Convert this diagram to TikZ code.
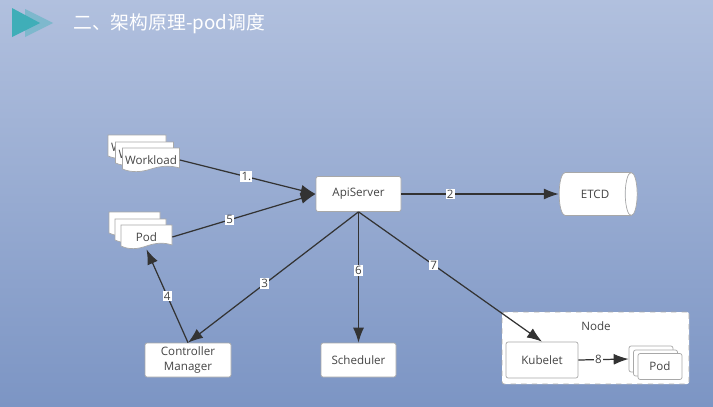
\documentclass[tikz,border=0pt]{standalone}
\usepackage{fontspec}
\setmainfont{Open Sans}
\newfontfamily\cjk{Noto Sans CJK SC}
\usepackage{xcolor}
\usepackage{tikz}
\usetikzlibrary{arrows.meta,positioning,shapes.geometric}
\definecolor{bgtop}{HTML}{B1C0DE}
\definecolor{bgbot}{HTML}{7C95C4}
\definecolor{linegray}{HTML}{333333}
\definecolor{edgegray}{HTML}{A8A8A8}
\definecolor{txtgray}{HTML}{444444}
\definecolor{arrowteal}{HTML}{3FAEB8}

% stacked sheet with a wavy lower edge: name, x, y, width, height, text
\newcommand{\docnode}[6]{
  \begin{scope}[shift={(#2,#3)}]
    \filldraw[draw=edgegray, fill=white, thin]
      (-#4/2,-#5/2) -- (#4/2,-#5/2) -- (#4/2,#5/2-4)
      .. controls (#4/3,#5/2-7) and (#4/6,#5/2-6) .. (0,#5/2-3)
      .. controls (-#4/6,#5/2) and (-#4/3,#5/2+1) .. (-#4/2,#5/2-3) -- cycle;
    \node[doctxt] (#1) at (0,0) [minimum width={#4*0.2mm}, minimum height={#5*0.2mm}] {#6};
  \end{scope}
}

\begin{document}
\begin{tikzpicture}[x=0.2mm, y=-0.2mm,
  comp/.style={draw=edgegray, fill=white, rounded corners=1.2pt, thin,
    align=center, inner sep=0pt, text=txtgray, font=\fontsize{6.6}{8}\selectfont},
  doctxt/.style={inner sep=0pt, text=txtgray, font=\fontsize{6.6}{8}\selectfont},
  store/.style={cylinder, shape border rotate=0, aspect=1.4, draw=edgegray, thin,
    cylinder uses custom fill, cylinder body fill=white, cylinder end fill=white,
    inner sep=0pt, text=txtgray, font=\fontsize{6.6}{8}\selectfont},
  zone/.style={draw=edgegray, fill=white, dashed, rounded corners=1.2pt, thin},
  arr/.style={-{Latex[length=3mm, width=2.2mm]}, draw=linegray, line width=0.7pt},
  elbl/.style={fill=white, inner sep=0.6pt, text=txtgray, font=\fontsize{6.6}{8}\selectfont}
]
  \useasboundingbox (0,0) rectangle (713,406);
  \shade[top color=bgtop, bottom color=bgbot] (0,0) rectangle (713,406);

  % title
  \fill[arrowteal!45!bgtop] (25,9) -- (53,23) -- (25,37) -- cycle;
  \fill[arrowteal] (12,8) -- (40,23) -- (12,37) -- cycle;
  \node[anchor=west, inner sep=0pt, text=white, font=\cjk\fontsize{10.7}{12}\selectfont]
    (title) at (73,24) {二、架构原理-pod调度};

  % control plane
  \node[comp, minimum width=17mm, minimum height=7mm] (api) at (358.5,194) {ApiServer};
  \node[store, minimum width=8.6mm, minimum height=15.6mm] (etcd) at (595,194) {ETCD\hspace{9pt}};
  \node[comp, minimum width=17.2mm, minimum height=6.8mm, align=center] (ctrl) at (188,360) {Controller\\Manager};
  \node[comp, minimum width=15mm, minimum height=6.8mm] (sched) at (358.5,360) {Scheduler};

  % workload sheets
  \docnode{wlc}{137}{147}{58}{24}{Workload}
  \docnode{wlb}{144.5}{154}{58}{24}{Workload}
  \docnode{wl}{151}{160}{57}{24}{Workload}

  % pod sheets
  \docnode{podc}{134.5}{224}{51}{24}{}
  \docnode{podb}{140.5}{231}{51}{24}{}
  \docnode{pod}{146.5}{237}{51}{24}{Pod}

  % worker node
  \node[zone, minimum width=37.4mm, minimum height=14.4mm] (nodebox) at (595.5,348) {};
  \node[doctxt] (nodelbl) at (596,326) {Node};
  \node[comp, minimum width=14.4mm, minimum height=7.2mm] (kubelet) at (542,360) {Kubelet};
  \node[comp, minimum width=8.8mm, minimum height=5.2mm] (npodc) at (651,359) {};
  \node[comp, minimum width=8.8mm, minimum height=5.2mm] (npodb) at (655.5,363) {};
  \node[comp, minimum width=8.8mm, minimum height=5.2mm] (npod) at (660,366.5) {Pod};

  % edges
  \draw[arr] (wl.east) -- node[elbl, pos=0.49] {1.} (api.west);
  \draw[arr] (pod.east) -- node[elbl, pos=0.4] {5} (api.west);
  \draw[arr] (api.east) -- node[elbl, pos=0.31] {2} (etcd.west);
  \draw[arr] (api.south) -- node[elbl, pos=0.55] {3} (ctrl.north);
  \draw[arr] (api.south) -- node[elbl, pos=0.45] {6} (sched.north);
  \draw[arr] (api.south) -- node[elbl, pos=0.41] {7} (kubelet.north);
  \draw[arr] (ctrl.north) -- node[elbl, pos=0.5] {4} (pod.south);
  \draw[arr] (kubelet.east) -- node[elbl, pos=0.4] {8} (npodc.west);
\end{tikzpicture}
\end{document}
